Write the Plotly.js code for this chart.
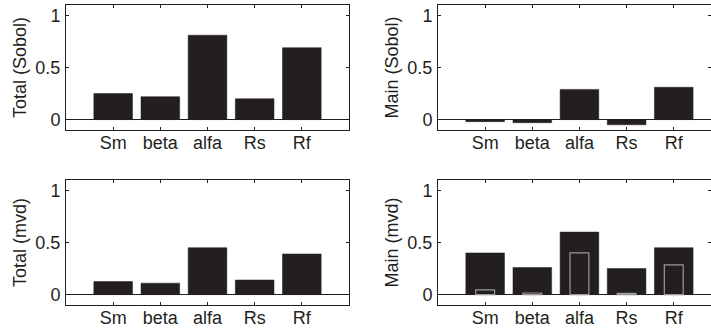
<!DOCTYPE html>
<html>
<head>
<meta charset="utf-8">
<script src="https://cdn.plot.ly/plotly-3.0.1.min.js"></script>
<style>html,body{margin:0;padding:0;overflow:hidden;background:#fff}</style>
</head>
<body>
<div id="chart" style="width:711px;height:334px"></div>
<script>
const categories = ["Sm", "beta", "alfa", "Rs", "Rf"];
const totalSobol = [0.25, 0.22, 0.81, 0.20, 0.69];
const mainSobol = [-0.02, -0.03, 0.29, -0.05, 0.31];
const totalMvd = [0.125, 0.11, 0.45, 0.14, 0.39];
const mainMvd = [0.40, 0.26, 0.60, 0.25, 0.45];
const mainMvdInner = [0.045, 0.015, 0.40, 0.012, 0.285];
const yTickVals = [0, 0.5, 1];
const yTickText = ["0", "0.5", "1"];
const yTitles = ["Total (Sobol)", "Main (Sobol)", "Total (mvd)", "Main (mvd)"];

const dark = "#231f20";
const fnt = {family: "Liberation Sans, Arial, Helvetica, sans-serif", size: 18, color: "#231f20"};

function bar(y, xa, ya, width, lineColor, lineWidth) {
  return {
    type: "bar", x: categories, y: y, xaxis: xa, yaxis: ya, width: width,
    marker: {color: dark, line: {color: lineColor, width: lineWidth}},
    hoverinfo: "x+y", showlegend: false
  };
}

const data = [
  bar(totalSobol, "x", "y", 0.82, dark, 0.5),
  bar(mainSobol, "x2", "y2", 0.82, dark, 0.5),
  bar(totalMvd, "x3", "y3", 0.82, dark, 0.5),
  bar(mainMvd, "x4", "y4", 0.82, dark, 0.5),
  bar(mainMvdInner, "x4", "y4", 0.4, "#9a9a9a", 1.2)
];

const W = 711, H = 334;
function xax(l, r, rng, anchor) {
  return {
    domain: [l / W, r / W], range: rng, anchor: anchor, type: "category",
    showline: true, linecolor: "#231f20", linewidth: 1, mirror: "ticks",
    ticks: "inside", ticklen: 3, tickcolor: "#231f20", tickwidth: 1,
    ticklabelstandoff: -4,
    showgrid: false, zeroline: false, tickfont: fnt, fixedrange: true
  };
}
function yax(top, bottom, anchor, title) {
  return {
    domain: [1 - bottom / H, 1 - top / H], range: [-0.1, 1.1], anchor: anchor,
    tickvals: yTickVals, ticktext: yTickText,
    showline: true, linecolor: "#231f20", linewidth: 1, mirror: "ticks",
    ticks: "inside", ticklen: 3, tickcolor: "#231f20", tickwidth: 1,
    ticklabelstandoff: 1,
    showgrid: false, zeroline: true, zerolinecolor: "#231f20", zerolinewidth: 1,
    tickfont: fnt, fixedrange: true,
    title: {text: title, font: fnt, standoff: 4}
  };
}

const layout = {
  width: W, height: H,
  margin: {l: 0, r: 0, t: 0, b: 0},
  paper_bgcolor: "#fff", plot_bgcolor: "#fff",
  barmode: "overlay",
  font: fnt,
  xaxis: xax(66, 349, [-1, 5], "y"),
  yaxis: yax(5, 130, "x", yTitles[0]),
  xaxis2: xax(438, 711, [-1, 4.79], "y2"),
  yaxis2: yax(5, 130, "x2", yTitles[1]),
  xaxis3: xax(66, 349, [-1, 5], "y3"),
  yaxis3: yax(180, 305, "x3", yTitles[2]),
  xaxis4: xax(438, 711, [-1, 4.79], "y4"),
  yaxis4: yax(180, 305, "x4", yTitles[3])
};

Plotly.newPlot("chart", data, layout, {displayModeBar: false, staticPlot: true});
</script>
</body>
</html>
